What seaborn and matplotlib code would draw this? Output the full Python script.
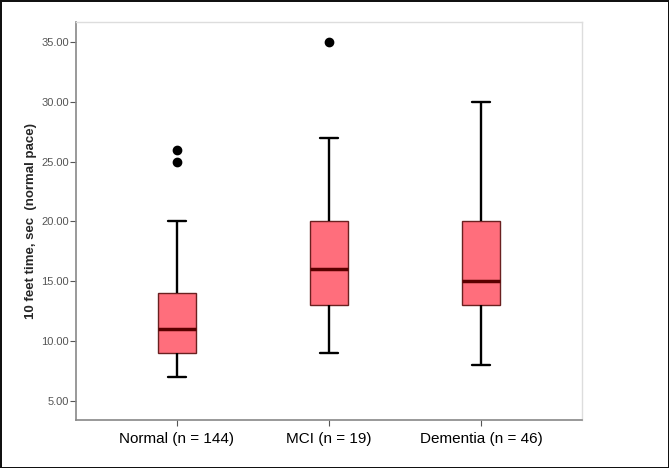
import matplotlib
matplotlib.use("Agg")
import matplotlib.pyplot as plt
import matplotlib.ticker as mticker
import seaborn as sns
import pandas as pd

# Group labels shown on the x axis
groups = ["Normal (n = 144)", "MCI (n = 19)", "Dementia (n = 46)"]

# Sample values per group chosen so the five-number summaries match the picture
# Normal: min 7, Q1 9, median 11, Q3 14, whisker 20, outliers 25, 26
normal_vals = [7, 8, 9, 9, 10, 11, 11, 12, 13, 14, 20, 25, 26]
# MCI: min 9, Q1 13, median 16, Q3 20, whisker 27, outlier 35
mci_vals = [9, 11, 12, 13, 14, 15, 16, 17, 19, 20, 22, 27, 35]
# Dementia: min 8, Q1 13, median 15, Q3 20, whisker 30
dementia_vals = [8, 10, 12, 13, 14, 15, 15, 17, 19, 20, 24, 27, 30]

y_ticks = [5, 10, 15, 20, 25, 30, 35]

df = pd.DataFrame({
    "group": [groups[0]] * len(normal_vals) + [groups[1]] * len(mci_vals) + [groups[2]] * len(dementia_vals),
    "time": normal_vals + mci_vals + dementia_vals,
})

sns.set_style("white")
plt.rcParams["font.family"] = ["Liberation Sans", "DejaVu Sans"]

fig = plt.figure(figsize=(6.69, 4.68), dpi=100)
fig.patch.set_edgecolor("#111111")
fig.patch.set_linewidth(2.0)
ax = fig.add_axes([0.1136, 0.1026, 0.7564, 0.8504])

sns.boxplot(
    data=df, x="group", y="time", order=groups, ax=ax,
    width=0.25, whis=1.5, color="#ff6e7c", saturation=1,
    boxprops=dict(facecolor="#ff6e7c", edgecolor="#6a2020", linewidth=1.0),
    medianprops=dict(color="#5a0000", linewidth=2.5),
    whiskerprops=dict(color="black", linewidth=1.7),
    capprops=dict(color="black", linewidth=1.7),
    flierprops=dict(marker="o", markerfacecolor="black", markeredgecolor="black", markersize=6),
    capwidths=0.115,
)

ax.set_xlim(-0.664, 2.664)
ax.set_ylim(3.41, 36.67)
ax.set_yticks(y_ticks)
ax.yaxis.set_major_formatter(mticker.FormatStrFormatter("%.2f"))
ax.set_xlabel("")
ax.set_ylabel("10 feet time, sec  (normal pace)", fontsize=9.5, fontweight="bold", labelpad=3)

ax.tick_params(axis="y", which="major", left=True, length=4, width=0.8, color="#555555",
               labelsize=8, labelcolor="#555555", pad=1)
ax.tick_params(axis="x", which="major", bottom=True, length=4, width=0.8, color="#555555",
               labelsize=11, labelcolor="black", pad=5)

for side in ["left", "bottom"]:
    ax.spines[side].set_color("#888888")
    ax.spines[side].set_linewidth(1.2)
for side in ["top", "right"]:
    ax.spines[side].set_color("#dddddd")
    ax.spines[side].set_linewidth(1.0)

plt.savefig("out.png", dpi=100)
plt.close()
